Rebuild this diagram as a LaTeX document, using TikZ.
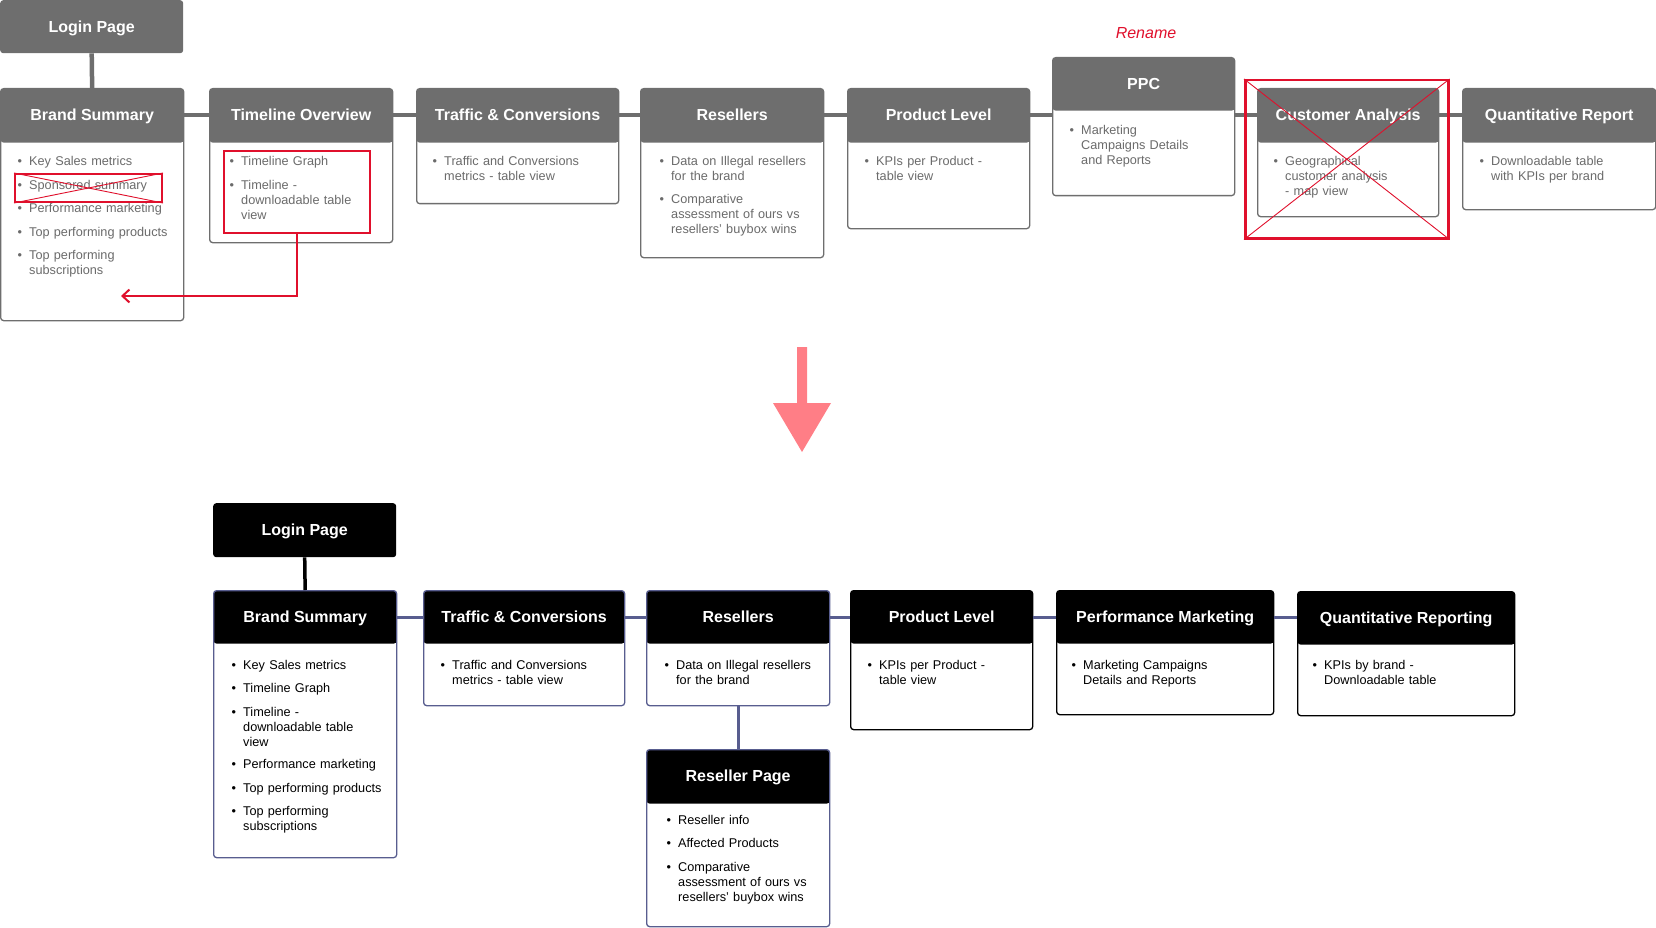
\documentclass[tikz,border=0pt]{standalone}
\usepackage{fontspec}
\setmainfont{Liberation Sans}
\usetikzlibrary{arrows.meta}

\definecolor{hdrgray}{HTML}{6E6E6E}
\definecolor{txtgray}{HTML}{6B6B6B}
\definecolor{slate}{HTML}{585D8F}
\definecolor{markred}{HTML}{E0102C}
\definecolor{bigpink}{HTML}{FF7E86}

\newcommand{\ttlfont}{\fontsize{16}{19}\selectfont\bfseries}
\newcommand{\itm}[1]{\makebox[11.5pt][l]{\textbullet}#1}
\newcommand{\cnt}[1]{\hspace*{11.5pt}#1}

\tikzset{
  card/.style={anchor=north west, inner sep=0pt, rounded corners=3pt, line width=1.3pt, fill=white},
  oldcard/.style={card, draw=hdrgray, path picture={\fill[hdrgray] (path picture bounding box.north west) rectangle ([yshift=-#1]path picture bounding box.north east);}},
  newcard/.style={card, draw=slate, path picture={\fill[black] (path picture bounding box.north west) rectangle ([yshift=-#1]path picture bounding box.north east);}},
  oldhead/.style={anchor=north west, inner sep=0pt, rounded corners=3pt, fill=hdrgray, text=white, font=\ttlfont, text height=11.5pt, text depth=0pt},
  newhead/.style={oldhead, fill=black},
  cardtitle/.style={inner sep=0pt, text=white, font=\ttlfont, text height=11.5pt, text depth=0pt},
  olditems/.style={anchor=base west, inner sep=0pt, text width=200pt, align=left, text=txtgray, font=\fontsize{12.7}{15}\selectfont},
  newitems/.style={olditems, text=black},
  toplink/.style={draw=hdrgray, line width=4.5pt},
  newlink/.style={draw=slate, line width=3pt},
  redmark/.style={draw=markred, line width=2pt, anchor=north west, inner sep=0pt},
  redcross/.style={draw=markred, line width=0.9pt},
  redback/.style={draw=markred, line width=2pt, -{Straight Barb[length=7pt,width=13pt]}}
}

\begin{document}
\begin{tikzpicture}[x=1pt,y=-1pt]
\useasboundingbox (0,0) rectangle (1656,928);

% current sitemap
\node[oldhead, minimum width=183pt, minimum height=53pt] (login1) at (0,0) {Login Page};
\node[oldcard=54pt, minimum width=183pt, minimum height=232pt] (bs1) at (0,88) {};
\node[oldcard=54pt, minimum width=183pt, minimum height=154pt] (tov) at (209,88) {};
\node[oldcard=54pt, minimum width=202pt, minimum height=115pt] (tc1) at (416,88) {};
\node[oldcard=54pt, minimum width=183pt, minimum height=169pt] (rs1) at (640,88) {};
\node[oldcard=54pt, minimum width=182pt, minimum height=140pt] (pl1) at (847,88) {};
\node[oldcard=53pt, minimum width=182pt, minimum height=138pt] (ppc) at (1052,57) {};
\node[oldcard=54pt, minimum width=181pt, minimum height=128pt] (ca) at (1257,88) {};
\node[oldcard=54pt, minimum width=193pt, minimum height=121pt] (qr1) at (1462,88) {};

\node[cardtitle] (bs1t) at ([yshift=-27pt]bs1.north) {Brand Summary};
\node[cardtitle] (tovt) at ([yshift=-27pt]tov.north) {Timeline Overview};
\node[cardtitle] (tc1t) at ([yshift=-27pt]tc1.north) {Traffic \& Conversions};
\node[cardtitle] (rs1t) at ([yshift=-27pt]rs1.north) {Resellers};
\node[cardtitle] (pl1t) at ([yshift=-27pt]pl1.north) {Product Level};
\node[cardtitle] (ppct) at ([yshift=-26.5pt]ppc.north) {PPC};
\node[cardtitle] (cat) at ([yshift=-27pt]ca.north) {Customer Analysis};
\node[cardtitle] (qr1t) at ([yshift=-27pt]qr1.north) {Quantitative Report};

\node[olditems] (bs1i) at ([xshift=17.5pt,yshift=-78pt]bs1.north west)
  {\itm{Key Sales metrics}\\[8.5pt]\itm{Sponsored summary}\\[8.5pt]\itm{Performance marketing}\\[8.5pt]\itm{Top performing products}\\[8.5pt]\itm{Top performing}\\\cnt{subscriptions}};
\node[olditems] (tovi) at ([xshift=20.5pt,yshift=-78pt]tov.north west)
  {\itm{Timeline Graph}\\[8.5pt]\itm{Timeline -}\\\cnt{downloadable table}\\\cnt{view}};
\node[olditems] (tc1i) at ([xshift=16.5pt,yshift=-78pt]tc1.north west)
  {\itm{Traffic and Conversions}\\\cnt{metrics - table view}};
\node[olditems] (rs1i) at ([xshift=19.5pt,yshift=-78pt]rs1.north west)
  {\itm{Data on Illegal resellers}\\\cnt{for the brand}\\[7.5pt]\itm{Comparative}\\\cnt{assessment of ours vs}\\\cnt{resellers’ buybox wins}};
\node[olditems] (pl1i) at ([xshift=17.5pt,yshift=-78pt]pl1.north west)
  {\itm{KPIs per Product -}\\\cnt{table view}};
\node[olditems] (ppci) at ([xshift=17.5pt,yshift=-78pt]ppc.north west)
  {\itm{Marketing}\\\cnt{Campaigns Details}\\\cnt{and Reports}};
\node[olditems] (cai) at ([xshift=16.5pt,yshift=-78pt]ca.north west)
  {\itm{Geographical}\\\cnt{customer analysis}\\\cnt{- map view}};
\node[olditems] (qr1i) at ([xshift=17.5pt,yshift=-78pt]qr1.north west)
  {\itm{Downloadable table}\\\cnt{with KPIs per brand}};

\coordinate (oldrow) at (0,115);
\draw[toplink] (login1.south) -- (bs1.north);
\foreach \a/\b in {bs1/tov,tov/tc1,tc1/rs1,rs1/pl1,pl1/ppc,ppc/ca,ca/qr1}
  \draw[toplink] (\a.east |- oldrow) -- (\b.west |- oldrow);

% review marks
\node[text=markred, font=\fontsize{16}{19}\selectfont\itshape, inner sep=0pt] (renm) at (1146,33) {Rename};
\node[redmark, minimum width=147pt, minimum height=28pt] (sponx) at (14,173) {};
\draw[redcross] (sponx.north west) -- (sponx.south east) (sponx.south west) -- (sponx.north east);
\node[redmark, minimum width=146pt, minimum height=82pt] (tlmark) at (223,150) {};
\coordinate (tlback) at (121,296);
\draw[redback] (tlmark.south) |- (tlback);
\node[redmark, line width=2.5pt, minimum width=203pt, minimum height=158pt] (camark) at (1244,79) {};
\draw[redcross] (camark.north west) -- (camark.south east) (camark.south west) -- (camark.north east);

% big arrow
\fill[bigpink] (797,347) -- (807,347) -- (807,403) -- (831,403) -- (802,452) -- (773,403) -- (797,403) -- cycle;

% new sitemap
\node[newhead, minimum width=183pt, minimum height=54pt] (login2) at (213,503) {Login Page};
\node[newcard=53pt, minimum width=183pt, minimum height=267pt] (bs2) at (213,590) {};
\node[newcard=53pt, minimum width=201pt, minimum height=115pt] (tc2) at (423,590) {};
\node[newcard=53pt, minimum width=183pt, minimum height=115pt] (rs2) at (646,590) {};
\node[newcard=54pt, minimum width=183pt, minimum height=177pt] (rp) at (646,749) {};
\node[newcard=53pt, draw=black, minimum width=182pt, minimum height=139pt] (pl2) at (850,590) {};
\node[newcard=53pt, draw=black, minimum width=217pt, minimum height=124pt] (pm) at (1056,590) {};
\node[newcard=53pt, draw=black, minimum width=217pt, minimum height=124pt] (qr2) at (1297,591) {};

\node[cardtitle] (bs2t) at ([yshift=-26.5pt]bs2.north) {Brand Summary};
\node[cardtitle] (tc2t) at ([yshift=-26.5pt]tc2.north) {Traffic \& Conversions};
\node[cardtitle] (rs2t) at ([yshift=-26.5pt]rs2.north) {Resellers};
\node[cardtitle] (rpt) at ([yshift=-27pt]rp.north) {Reseller Page};
\node[cardtitle] (pl2t) at ([yshift=-26.5pt]pl2.north) {Product Level};
\node[cardtitle] (pmt) at ([yshift=-26.5pt]pm.north) {Performance Marketing};
\node[cardtitle] (qr2t) at ([yshift=-26.5pt]qr2.north) {Quantitative Reporting};

\node[newitems] (bs2i) at ([xshift=18.5pt,yshift=-79pt]bs2.north west)
  {\itm{Key Sales metrics}\\[8.5pt]\itm{Timeline Graph}\\[8.5pt]\itm{Timeline -}\\\cnt{downloadable table}\\\cnt{view}\\[7.5pt]\itm{Performance marketing}\\[8.5pt]\itm{Top performing products}\\[8.5pt]\itm{Top performing}\\\cnt{subscriptions}};
\node[newitems] (tc2i) at ([xshift=17.5pt,yshift=-79pt]tc2.north west)
  {\itm{Traffic and Conversions}\\\cnt{metrics - table view}};
\node[newitems] (rs2i) at ([xshift=18.5pt,yshift=-79pt]rs2.north west)
  {\itm{Data on Illegal resellers}\\\cnt{for the brand}};
\node[newitems] (rpi) at ([xshift=20.5pt,yshift=-75pt]rp.north west)
  {\itm{Reseller info}\\[8.5pt]\itm{Affected Products}\\[8.5pt]\itm{Comparative}\\\cnt{assessment of ours vs}\\\cnt{resellers’ buybox wins}};
\node[newitems] (pl2i) at ([xshift=17.5pt,yshift=-79pt]pl2.north west)
  {\itm{KPIs per Product -}\\\cnt{table view}};
\node[newitems] (pmi) at ([xshift=15.5pt,yshift=-79pt]pm.north west)
  {\itm{Marketing Campaigns}\\\cnt{Details and Reports}};
\node[newitems] (qr2i) at ([xshift=15.5pt,yshift=-78pt]qr2.north west)
  {\itm{KPIs by brand -}\\\cnt{Downloadable table}};

\coordinate (newrow) at (0,617);
\draw[draw=black, line width=3.5pt] (login2.south) -- (bs2.north);
\draw[newlink] (rs2.south) -- (rp.north);
\foreach \a/\b in {bs2/tc2,tc2/rs2,rs2/pl2,pl2/pm,pm/qr2}
  \draw[newlink] (\a.east |- newrow) -- (\b.west |- newrow);
\end{tikzpicture}
\end{document}
